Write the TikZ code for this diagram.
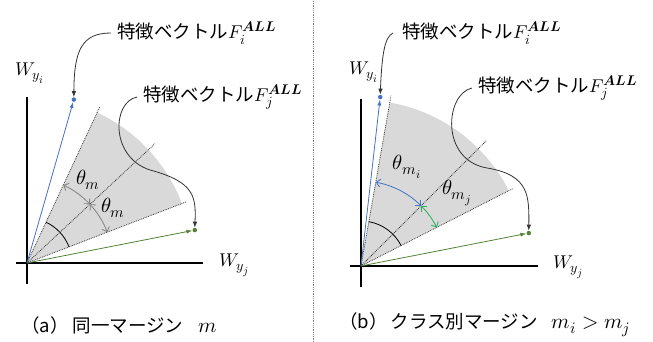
\documentclass[tikz,border=0pt]{standalone}
\usepackage{fontspec}
\usepackage{unicode-math}
\setmainfont{Noto Sans CJK JP}
\setmathfont{Latin Modern Math}
\DeclareMathSizes{18.5}{18.5}{14}{11}
\DeclareMathSizes{20.5}{20.5}{15.5}{12}
\DeclareMathSizes{21}{21}{16}{12.5}
\usetikzlibrary{arrows.meta,calc}
\definecolor{vblue}{RGB}{68,114,196}
\definecolor{vgreen}{RGB}{84,130,53}
\definecolor{agreen}{RGB}{40,175,85}
\definecolor{shadegray}{RGB}{217,217,217}
\newcommand{\bigmath}[1]{{\fontsize{21}{24}\selectfont$#1$}}
\begin{document}
\begin{tikzpicture}[x=1pt,y=1pt,
 axisline/.style={line width=1.3pt},
 guide/.style={densely dotted, line width=0.8pt, black!80},
 vec/.style={line width=0.8pt,-{Latex[length=6pt,width=4pt]}},
 dotpt/.style={circle,fill,inner sep=0pt,minimum size=4.5pt},
 callout/.style={line width=0.8pt, black!80, -{Latex[length=6pt,width=4.5pt]}},
 marc/.style={line width=0.8pt, {Straight Barb[length=4pt]}-{Straight Barb[length=4pt]}},
 lbl/.style={font=\fontsize{18.5}{22}\selectfont, inner sep=0pt},
 mlbl/.style={font=\fontsize{20.5}{24}\selectfont, inner sep=0pt},
 wlbl/.style={font=\fontsize{18.5}{22}\selectfont, inner sep=0pt},
 ]
\useasboundingbox (0,0) rectangle (653,342);
\draw[gray, densely dotted, line width=0.8pt] (313,0) -- (313,342);
% ---------- left panel ----------
\begin{scope}[shift={(27,79)}]
 \coordinate (OA) at (0,0);
 \fill[shadegray] (OA) -- (21:166) arc[start angle=21,end angle=65,radius=166] -- cycle;
 \coordinate (AyT) at (0,166);
 \coordinate (AyB) at (0,-21);
 \coordinate (AxL) at (-11,0);
 \coordinate (AxR) at (176,0);
 \draw[axisline] (AyT) -- (AyB);
 \draw[axisline] (AxL) -- (AxR);
 \coordinate (UA) at (65:172);
 \coordinate (MA) at (43:175);
 \coordinate (LA) at (21:170);
 \draw[guide] (OA) -- (UA);
 \draw[guide] (OA) -- (MA);
 \draw[guide] (OA) -- (LA);
 \node[dotpt, fill=vblue] (FiA) at (74:170) {};
 \draw[vec, vblue] (OA) -- (FiA);
 \node[dotpt, fill=vgreen] (FjA) at (11.1:171) {};
 \draw[vec, vgreen] (OA) -- (FjA);
 \draw[marc, gray] (65:86) arc[start angle=65,end angle=43,radius=86];
 \draw[marc, gray] (43:86) arc[start angle=43,end angle=21,radius=86];
 \draw[line width=0.8pt] (21:45) arc[start angle=21,end angle=65,radius=45];
\end{scope}
\node[mlbl] (thA1) at (88,162) {$\theta_m$};
\node[mlbl] (thA2) at (113,134) {$\theta_m$};
\node[wlbl] (WiA) at (30,269) {$W_{y_i}$};
\node[wlbl] (WjA) at (234,77) {$W_{y_j}$};
\node[lbl, anchor=west] (TiA) at (117,309) {特徴ベクトル$F_i^{\symbfit{ALL}}$};
\node[lbl, anchor=west] (TjA) at (143,245) {特徴ベクトル$F_j^{\symbfit{ALL}}$};
\draw[callout] ([xshift=-6pt]TiA.west) .. controls (82,309) and (74,292) .. (FiA.north);
\draw[callout] ([xshift=-6pt]TjA.west) .. controls (112,240) and (110,185) .. (150,172) .. controls (195,160) and (196,145) .. (FjA.north);
\node[lbl, anchor=west] (capA) at (21,17) {（a）\hspace{4pt}同一マージン\hspace{15pt}\bigmath{m}};
% ---------- right panel ----------
\begin{scope}[shift={(361,76)}]
 \coordinate (OB) at (0,0);
 \fill[shadegray] (OB) -- (27:166) arc[start angle=27,end angle=80,radius=166] -- cycle;
 \coordinate (ByT) at (0,167);
 \coordinate (ByB) at (0,-21);
 \coordinate (BxL) at (-11,0);
 \coordinate (BxR) at (177,0);
 \draw[axisline] (ByT) -- (ByB);
 \draw[axisline] (BxL) -- (BxR);
 \coordinate (UB) at (80:173);
 \coordinate (MB) at (45:177);
 \coordinate (LB) at (27:170);
 \draw[guide] (OB) -- (UB);
 \draw[guide] (OB) -- (MB);
 \draw[guide] (OB) -- (LB);
 \node[dotpt, fill=vblue] (FiB) at (83.5:170) {};
 \draw[vec, vblue] (OB) -- (FiB);
 \node[dotpt, fill=vgreen] (FjB) at (11.1:171) {};
 \draw[vec, vgreen] (OB) -- (FjB);
 \draw[marc, vblue] (80:85) arc[start angle=80,end angle=45,radius=85];
 \draw[marc, agreen] (45:85) arc[start angle=45,end angle=27,radius=85];
 \draw[line width=0.8pt] (27:45) arc[start angle=27,end angle=80,radius=45];
\end{scope}
\node[mlbl] (thB1) at (407,175) {$\theta_{m_i}$};
\node[mlbl] (thB2) at (457,149) {$\theta_{m_j}$};
\node[wlbl] (WiB) at (364,270) {$W_{y_i}$};
\node[wlbl] (WjB) at (568,75) {$W_{y_j}$};
\node[lbl, anchor=west] (TiB) at (402,309) {特徴ベクトル$F_i^{\symbfit{ALL}}$};
\node[lbl, anchor=west] (TjB) at (478,254) {特徴ベクトル$F_j^{\symbfit{ALL}}$};
\draw[callout] ([xshift=-9pt]TiB.west) .. controls (385,305) and (382,290) .. (FiB.north);
\draw[callout] ([xshift=-6pt]TjB.west) .. controls (445,248) and (440,182) .. (487,174) .. controls (530,167) and (529,145) .. (FjB.north);
\node[lbl, anchor=west] (capB) at (339,17) {（b）\hspace{3pt}クラス別マージン\hspace{14pt}\bigmath{m_i > m_j}};
\end{tikzpicture}
\end{document}
